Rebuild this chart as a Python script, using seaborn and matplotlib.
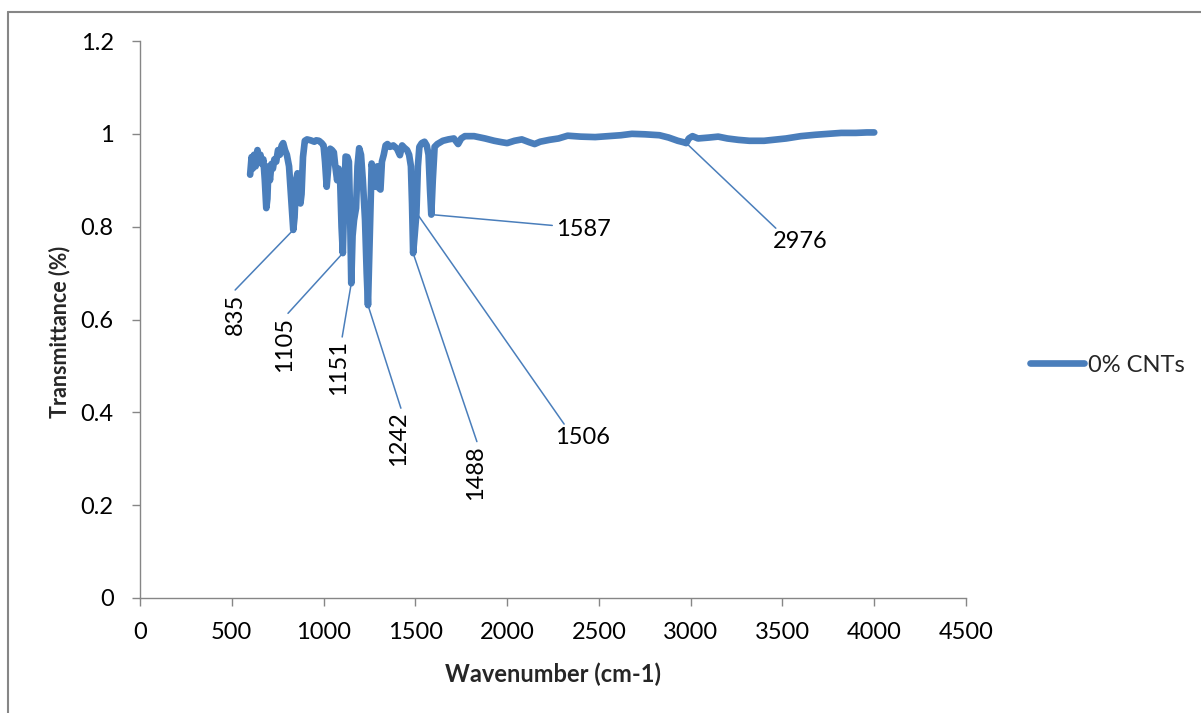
import numpy as np
import pandas as pd
import seaborn as sns
import matplotlib.pyplot as plt
from matplotlib.lines import Line2D

# FTIR spectrum, 0% CNTs
wavenumber = [
    600, 608, 614, 622, 630, 640, 648, 656, 664, 672, 680, 688, 694, 700, 708,
    716, 724, 732, 742, 752, 762, 772, 780, 790, 800, 812, 824, 835, 842, 850,
    858, 866, 874, 880, 888, 898, 910, 930, 950, 960, 975, 990, 1000, 1008, 1017,
    1026, 1036, 1046, 1056, 1064, 1074, 1082, 1090, 1098, 1105, 1112, 1120, 1130,
    1138, 1145, 1151, 1158, 1166, 1177, 1185, 1194, 1204, 1214, 1226, 1235, 1242,
    1250, 1262, 1272, 1282, 1293, 1302, 1310, 1318, 1328, 1338, 1348, 1362, 1380,
    1400, 1416, 1428, 1440, 1455, 1466, 1476, 1482, 1488, 1496, 1506, 1514, 1522,
    1535, 1550, 1562, 1572, 1580, 1587, 1595, 1605, 1620, 1650, 1680, 1710, 1733,
    1750, 1770, 1820, 1880, 1930, 1970, 2000, 2040, 2080, 2120, 2150, 2180, 2230,
    2280, 2330, 2400, 2480, 2550, 2620, 2680, 2750, 2830, 2880, 2930, 2960, 2976,
    2990, 3010, 3040, 3100, 3150, 3200, 3260, 3320, 3400, 3450, 3520, 3600, 3680,
    3750, 3820, 3900, 3960, 4000,
]
transmittance = [
    0.912, 0.950, 0.925, 0.955, 0.930, 0.965, 0.940, 0.955, 0.935, 0.945, 0.900,
    0.840, 0.860, 0.930, 0.900, 0.935, 0.925, 0.945, 0.940, 0.965, 0.955, 0.975,
    0.980, 0.965, 0.955, 0.930, 0.860, 0.793, 0.820, 0.900, 0.915, 0.880, 0.850,
    0.870, 0.950, 0.985, 0.988, 0.986, 0.983, 0.986, 0.985, 0.980, 0.975, 0.940,
    0.886, 0.930, 0.968, 0.965, 0.960, 0.930, 0.900, 0.925, 0.905, 0.800, 0.743,
    0.850, 0.951, 0.950, 0.940, 0.820, 0.678, 0.780, 0.814, 0.840, 0.930, 0.969,
    0.955, 0.900, 0.814, 0.700, 0.631, 0.750, 0.936, 0.915, 0.886, 0.930, 0.883,
    0.880, 0.940, 0.955, 0.975, 0.978, 0.972, 0.975, 0.968, 0.954, 0.975, 0.970,
    0.965, 0.955, 0.930, 0.850, 0.743, 0.780, 0.830, 0.930, 0.972, 0.980, 0.983,
    0.975, 0.955, 0.880, 0.826, 0.900, 0.972, 0.978, 0.985, 0.988, 0.990, 0.978,
    0.990, 0.995, 0.995, 0.990, 0.985, 0.982, 0.980, 0.985, 0.988, 0.982, 0.978,
    0.983, 0.987, 0.990, 0.996, 0.994, 0.993, 0.995, 0.997, 1.000, 0.999, 0.997,
    0.992, 0.985, 0.982, 0.980, 0.990, 0.995, 0.990, 0.992, 0.994, 0.990, 0.987,
    0.985, 0.985, 0.987, 0.990, 0.995, 0.998, 1.000, 1.002, 1.002, 1.003, 1.003,
]
series_name = "0% CNTs"

# Labelled absorption bands
peak_wavenumbers = [835, 1105, 1151, 1242, 1488, 1506, 1587, 2976]

x_ticks = [0, 500, 1000, 1500, 2000, 2500, 3000, 3500, 4000, 4500]
y_ticks = [0, 0.2, 0.4, 0.6, 0.8, 1.0, 1.2]
y_tick_labels = ["0", "0.2", "0.4", "0.6", "0.8", "1", "1.2"]

BLUE = "#4a7ebb"
GREY = "#868686"

sns.set_theme(style="white")
plt.rcParams["font.family"] = ["Lato", "DejaVu Sans"]

df = pd.DataFrame({"Wavenumber": wavenumber, "Transmittance": transmittance})

fig = plt.figure(figsize=(12.01, 7.13), dpi=100)
ax = fig.add_axes([140 / 1201, 1 - 598 / 713, 826 / 1201, 557 / 713])

sns.lineplot(data=df, x="Wavenumber", y="Transmittance", ax=ax, color=BLUE,
             linewidth=4.8, estimator=None, label=series_name,
             solid_capstyle="round", solid_joinstyle="round")

ax.set_xlim(0, 4500)
ax.set_ylim(0, 1.2)
ax.set_xticks(x_ticks)
ax.set_xticklabels([str(v) for v in x_ticks])
ax.set_yticks(y_ticks)
ax.set_yticklabels(y_tick_labels)

for side in ("top", "right"):
    ax.spines[side].set_visible(False)
for side in ("left", "bottom"):
    ax.spines[side].set_color(GREY)
    ax.spines[side].set_linewidth(1.0)

ax.tick_params(axis="both", which="major", direction="out", length=6,
               width=1.0, color=GREY, labelsize=17, labelcolor="black")
ax.tick_params(axis="y", pad=13, left=True)
ax.tick_params(axis="x", pad=11, bottom=True)

ax.set_xlabel("Wavenumber (cm-1)", fontsize=17, fontweight="bold", labelpad=14)
ax.set_ylabel("Transmittance (%)", fontsize=15.5, fontweight="bold")
ax.yaxis.label.set_va("center")
ax.yaxis.label.set_ha("center")
ax.yaxis.set_label_coords((60 - 140) / 826, (598 - 332) / 557)

# Band labels with leader lines
label_text_pos = {
    835: (517, 0.612, 90, (0.36, 1.0)),
    1105: (790, 0.547, 90, (0.5, 1.0)),
    1151: (1079, 0.496, 90, (0.67, 1.0)),
    1242: (1411, 0.343, 90, (0.64, 1.0)),
    1488: (1830, 0.271, 90, (0.6, 1.0)),
    1506: (2413, 0.345, 0, (0.2, 1.0)),
    1587: (2413, 0.793, 0, (0.0, 0.7)),
    2976: (3596, 0.767, 0, (0.12, 1.0)),
}
for wn in peak_wavenumbers:
    t = float(np.interp(wn, wavenumber, transmittance))
    tx, ty, rot, rel = label_text_pos[wn]
    ax.annotate(str(wn), xy=(wn, t), xytext=(tx, ty), textcoords="data",
                rotation=rot, ha="center", va="center", fontsize=17,
                color="black",
                arrowprops=dict(arrowstyle="-", color=BLUE, lw=1.1,
                                shrinkA=0, shrinkB=0, relpos=rel))

# Legend to the right of the plot area
ax.legend_.remove()
fig.legend(handles=[Line2D([], [], color=BLUE, lw=4.8, solid_capstyle="round")],
           labels=[series_name], loc="center left",
           bbox_to_anchor=(1030 / 1201, 1 - 365 / 713), frameon=False,
           fontsize=17, handlelength=2.3, handletextpad=0.15, borderpad=0,
           borderaxespad=0)

# Chart-area border (top and left edges)
fig.add_artist(Line2D([8 / 1201, 1], [1 - 11.5 / 713, 1 - 11.5 / 713],
                      transform=fig.transFigure, color=GREY, lw=1.5))
fig.add_artist(Line2D([8 / 1201, 8 / 1201], [0, 1 - 11.5 / 713],
                      transform=fig.transFigure, color=GREY, lw=1.5))

fig.savefig("out.png", dpi=100, facecolor="white")
